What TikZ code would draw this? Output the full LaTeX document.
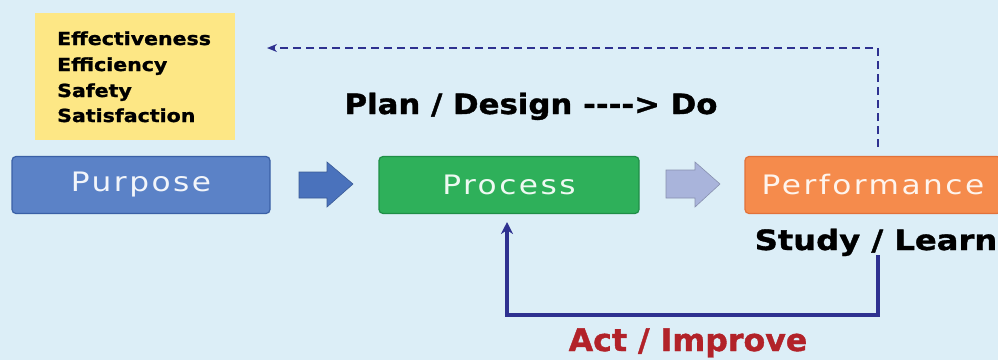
\documentclass[tikz,border=0pt]{standalone}
\usepackage{fontspec}
\setmainfont{DejaVu Sans}[BoldFeatures={FakeBold=1.2}]
\newfontfamily\lblfont[LetterSpace=8]{DejaVu Sans}
\usetikzlibrary{arrows.meta}
\definecolor{bgc}{HTML}{DCEEF7}
\definecolor{yel}{HTML}{FDE785}
\definecolor{purp}{HTML}{5B82C7}
\definecolor{purpd}{HTML}{3A60A6}
\definecolor{proc}{HTML}{2EB05A}
\definecolor{procd}{HTML}{1F8E47}
\definecolor{perf}{HTML}{F58B4C}
\definecolor{perfd}{HTML}{E2723A}
\definecolor{arr1}{HTML}{4A72BC}
\definecolor{arr2}{HTML}{A9B4DB}
\definecolor{navy}{HTML}{2E3190}
\definecolor{actred}{HTML}{B22229}
\newcommand{\wbig}[1]{\scalebox{1.15}[1]{#1}}
\newcommand{\wlbl}[1]{\scalebox{1.2}[1.03]{\lblfont #1}}
\newcommand{\wsm}[1]{\scalebox{1.14}[1]{#1}}
\begin{document}
\begin{tikzpicture}[x=1pt,y=-1pt,
  box/.style={rounded corners=4pt, line width=1.2pt, minimum height=57pt, inner sep=0pt, font=\fontsize{26}{26}\selectfont},
  big/.style={font=\fontsize{28}{28}\selectfont\bfseries, inner sep=0pt, anchor=base},
  goal/.style={font=\fontsize{18}{18}\selectfont\bfseries, inner sep=0pt, anchor=base west},
  blockarrow/.style={draw=#1!80!black, line width=0.6pt, fill=#1}]
\fill[bgc] (0,0) rectangle (998,360);
\useasboundingbox (0,0) rectangle (998,360);
% yellow box
\node[fill=yel, minimum width=200pt, minimum height=127pt, inner sep=0pt, anchor=north west] (goals) at (35,13) {};
\node[goal] (g1) at (57,45) {\wsm{Effectiveness}};
\node[goal] (g2) at (57,71) {\wsm{Efficiency}};
\node[goal] (g3) at (57,97) {\wsm{Safety}};
\node[goal] (g4) at (57,122) {\wsm{Satisfaction}};
% boxes
\node[box, fill=purp, draw=purpd, minimum width=258pt, text=white!92!purp] (purpose) at (141,185) {\wlbl{Purpose}};
\node[box, fill=proc, draw=procd, minimum width=260pt, text=white!92!proc] (process) at (509,185) {\wlbl{Process}};
\node[box, fill=perf, draw=perfd, minimum width=256pt, text=white!90!perf] (perform) at (873,185) {\wlbl{Performance}};
% block arrows
\filldraw[blockarrow=arr1] (299,172) -- (327,172) -- (327,162) -- (353,184) -- (327,207) -- (327,198) -- (299,198) -- cycle;
\filldraw[blockarrow=arr2] (666,170) -- (695,170) -- (695,162) -- (720,184) -- (695,207) -- (695,198) -- (666,198) -- cycle;
% texts
\node[big] (plan) at (531,114) {\scalebox{1.1}[1]{Plan / Design -{}-{}-{}-> Do}};
\node[big] (study) at (876,250) {\wbig{Study / Learn}};
\node[big, font=\fontsize{31}{31}\selectfont\bfseries, text=actred] (act) at (688,351) {\scalebox{1.02}[1]{Act / Improve}};
% feedback lines
\coordinate (d1) at (878,147);
\coordinate (d2) at (878,48);
\coordinate (d3) at (267,48);
\draw[navy, line width=2pt, dash pattern=on 8pt off 5pt, -{Stealth[length=10pt,width=8pt]}] (d1) -- (d2) -- (d3);
\coordinate (s1) at (878,255);
\coordinate (s2) at (878,315);
\coordinate (s3) at (507,315);
\coordinate (s4) at (507,222);
\draw[navy, line width=3.4pt, -{Stealth[length=12pt,width=12pt]}] (s1) -- (s2) -- (s3) -- (s4);
\end{tikzpicture}
\end{document}
